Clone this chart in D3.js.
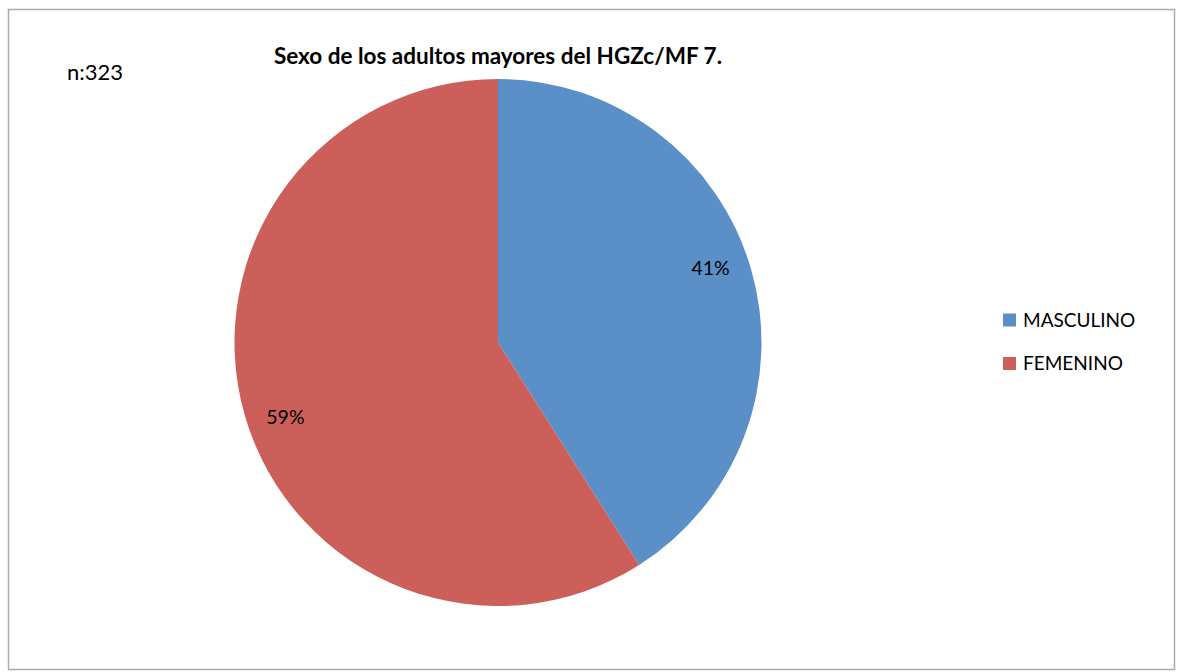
<!DOCTYPE html>
<html>
<head>
<meta charset="utf-8">
<script src="https://cdn.jsdelivr.net/npm/d3@7/dist/d3.min.js"></script>
<style>
  html, body { margin: 0; padding: 0; background: #fff; }
  svg { display: block; }
</style>
</head>
<body>
<svg id="chart" width="1177" height="672"></svg>
<script>
// Sex distribution of older adults (percent of n = 323)
const categories = ["MASCULINO", "FEMENINO"];
const percents = [41, 59];
const sampleLabel = "n:323";
const titleText = "Sexo de los adultos mayores del HGZc/MF 7.";
const colors = ["#5b8fc7", "#cd5f5a"];

const svg = d3.select("#chart");
const W = 1177, H = 672;
const font = "Lato, 'Open Sans', sans-serif";

// outer frame
svg.append("rect")
  .attr("x", 8.5).attr("y", 9.5)
  .attr("width", 1166).attr("height", 660)
  .attr("fill", "#fff")
  .attr("stroke", "#ababab").attr("stroke-width", 1.5);

// title
svg.append("text")
  .attr("x", 498).attr("y", 64)
  .attr("text-anchor", "middle")
  .attr("font-family", font).attr("font-weight", "bold")
  .attr("font-size", 22.5).attr("fill", "#000")
  .text(titleText);

// sample size
svg.append("text")
  .attr("x", 67).attr("y", 80)
  .attr("font-family", font).attr("font-size", 22).attr("fill", "#000")
  .text(sampleLabel);

// pie
const cx = 498, cy = 342.5, r = 263.5;
const data = categories.map((c, i) => ({ cat: c, value: percents[i], color: colors[i] }));
const pie = d3.pie().value(d => d.value).sort(null);
const arc = d3.arc().innerRadius(0).outerRadius(r);

const g = svg.append("g").attr("transform", `translate(${cx},${cy})`);
const arcs = pie(data);

g.selectAll("path.slice")
  .data(arcs)
  .join("path")
  .attr("class", "slice")
  .attr("d", arc)
  .attr("fill", d => d.data.color);

// percentage labels, placed inside each slice near the rim
const labelR = r * 0.855;
const labelPos = d => {
  const a = (d.startAngle + d.endAngle) / 2 - 0.055;
  return [labelR * Math.sin(a), -labelR * Math.cos(a)];
};
g.selectAll("text.pct")
  .data(arcs)
  .join("text")
  .attr("class", "pct")
  .attr("transform", d => `translate(${labelPos(d)})`)
  .attr("text-anchor", "middle")
  .attr("dy", "0.35em")
  .attr("font-family", font).attr("font-size", 19.5).attr("fill", "#000")
  .text(d => d.data.value + "%");

// legend
const legend = svg.append("g").attr("transform", "translate(1003,320)");
const items = legend.selectAll("g")
  .data(data)
  .join("g")
  .attr("transform", (d, i) => `translate(0,${i * 43.5})`);
items.append("rect")
  .attr("x", 0).attr("y", -6.5)
  .attr("width", 13).attr("height", 13)
  .attr("fill", d => d.color);
items.append("text")
  .attr("x", 20).attr("y", 0).attr("dy", "0.36em")
  .attr("font-family", font).attr("font-size", 19).attr("fill", "#000")
  .text(d => d.cat);
</script>
</body>
</html>
